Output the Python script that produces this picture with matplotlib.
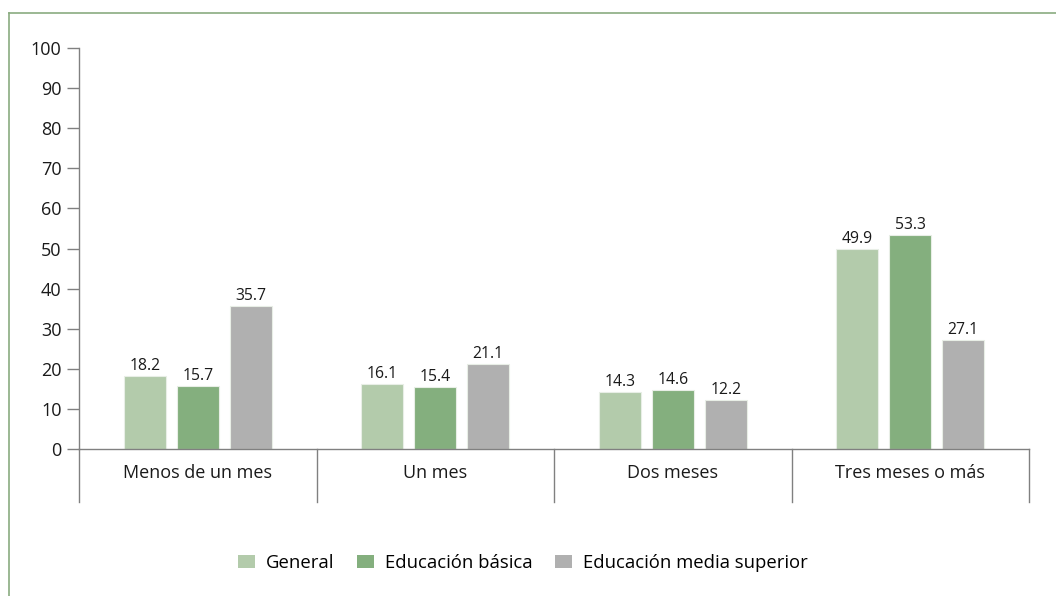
import matplotlib
matplotlib.use("Agg")
import matplotlib.pyplot as plt
import matplotlib.transforms as mtransforms
from matplotlib.lines import Line2D
from matplotlib.patches import Patch
import numpy as np

categories = ["Menos de un mes", "Un mes", "Dos meses", "Tres meses o más"]
series_names = ["General", "Educación básica", "Educación media superior"]
general = [18.2, 16.1, 14.3, 49.9]
basica = [15.7, 15.4, 14.6, 53.3]
media_superior = [35.7, 21.1, 12.2, 27.1]
yticks = [0, 10, 20, 30, 40, 50, 60, 70, 80, 90, 100]

colors = ["#b3cbab", "#84af7e", "#b0b0b0"]
plt.rcParams['font.family'] = ['Open Sans', 'DejaVu Sans']

W, H = 1056, 596
fig = plt.figure(figsize=(W / 100, H / 100), dpi=100)
ax = fig.add_axes([79 / W, 1 - 449 / H, (1029 - 79) / W, (449 - 48) / H])

x = np.arange(len(categories))
offsets = [-0.223, 0.0, 0.223]
width = 0.177
for vals, off, col, name in zip([general, basica, media_superior], offsets, colors, series_names):
    bars = ax.bar(x + off, vals, width, color=col, edgecolor="#e8eee6", linewidth=0.8, label=name, zorder=2)
    for b, v in zip(bars, vals):
        ax.text(b.get_x() + b.get_width() / 2, v + 0.5, f"{v:.1f}", ha="center", va="bottom",
                fontsize=11.3, color="#1a1a1a")

ax.set_xlim(-0.5, len(categories) - 0.5)
ax.set_ylim(0, 100)
ax.set_yticks(yticks)
ax.tick_params(axis="y", direction="out", length=8.5, width=1.0, color="#808080", labelsize=13,
               labelcolor="#1a1a1a", pad=4)
ax.set_xticks([])
for s in ["top", "right"]:
    ax.spines[s].set_visible(False)
for s in ["left", "bottom"]:
    ax.spines[s].set_color("#808080")
    ax.spines[s].set_linewidth(1.0)

trans = mtransforms.blended_transform_factory(ax.transData, ax.transAxes)
drop = -53 / 401
for b in np.arange(-0.5, len(categories), 1.0):
    ax.plot([b, b], [0, drop], transform=trans, color="#808080", lw=1.0, clip_on=False)
for i, c in enumerate(categories):
    ax.text(i, -24 / 401, c, transform=trans, ha="center", va="center", fontsize=13, color="#1a1a1a")

handles = [Patch(facecolor=c, edgecolor="none") for c in colors]
fig.legend(handles, series_names, loc="center", bbox_to_anchor=(523 / W, 1 - 563 / H), ncol=3,
           frameon=False, fontsize=13.3, handlelength=0.92, handleheight=0.76, handletextpad=0.6,
           columnspacing=1.2)

border = "#8aab80"
fig.add_artist(Line2D([9 / W, 1], [1 - 13 / H, 1 - 13 / H], transform=fig.transFigure, color=border, lw=1.2))
fig.add_artist(Line2D([9 / W, 9 / W], [1 - 13 / H, 0], transform=fig.transFigure, color=border, lw=1.2))

fig.savefig("out.png", dpi=100)
